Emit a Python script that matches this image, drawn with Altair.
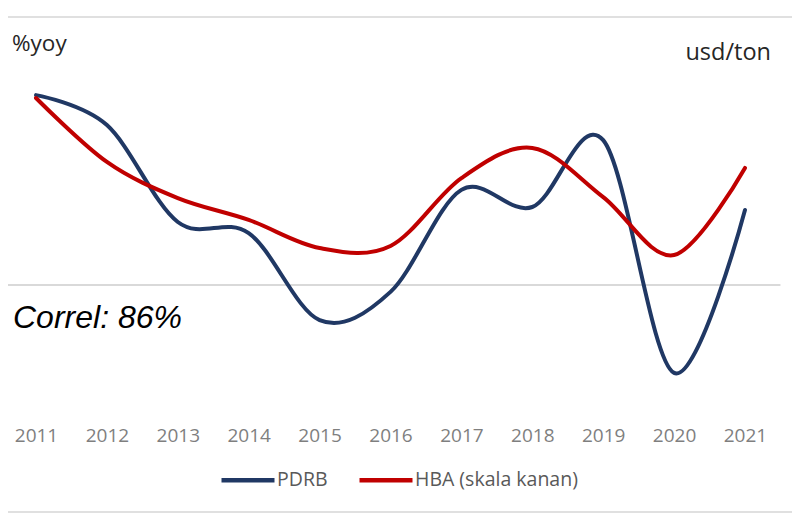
import altair as alt
import pandas as pd

years = [2011, 2012, 2013, 2014, 2015, 2016, 2017, 2018, 2019, 2020, 2021]
pdrb = [6.33, 5.33, 2.10, 1.73, -1.17, -0.23, 3.17, 2.60, 4.83, -2.93, 2.50]
hba = [118.0, 93.4, 79.5, 71.1, 60.3, 61.1, 87.2, 98.8, 79.9, 57.6, 91.1]
series_names = ["PDRB", "HBA (skala kanan)"]
series_colors = ["#203864", "#C00000"]

df = pd.DataFrame({"year": years, "pdrb": pdrb, "hba": hba})

W, H = 784, 506
xscale = alt.Scale(domain=[2010.605, 2021.663], nice=False, zero=False)
yleft = alt.Scale(domain=[-7.633, 9.233], nice=False, zero=False)
yright = alt.Scale(domain=[-42.0, 152.615], nice=False, zero=False)
color = alt.Color(
    "s:N",
    scale=alt.Scale(domain=series_names, range=series_colors),
    legend=alt.Legend(
        title=None, orient="none", direction="horizontal",
        legendX=211, legendY=443,
        symbolType="stroke", symbolSize=2809, symbolStrokeWidth=4.5,
        labelFont="Open Sans", labelFontSize=19.5, labelColor="#595959",
        labelOffset=0, columnPadding=22, labelLimit=400,
    ),
)

xaxis = alt.Axis(
    values=years, format="d", title=None, domain=False, ticks=False, grid=False,
    labelFont="Open Sans", labelFontSize=19, labelColor="#7f7f7f",
    offset=-91, labelPadding=12, labelBaseline="middle",
)

base = alt.Chart(df)

zero_rule = alt.Chart(pd.DataFrame({"a": [0]})).mark_rule(color="#d9d9d9", strokeWidth=2).encode(
    y=alt.Y("a:Q", scale=yleft, axis=None),
    x=alt.datum(2010.5, scale=xscale, axis=xaxis),
    x2=alt.datum(2021.5),
)

line_pdrb = base.transform_calculate(s="'PDRB'").mark_line(
    interpolate="cardinal", strokeWidth=4, strokeCap="round"
).encode(
    x=alt.X("year:Q", scale=xscale, axis=xaxis),
    y=alt.Y("pdrb:Q", scale=yleft, axis=None),
    color=color,
)

left = alt.layer(zero_rule, line_pdrb)

line_hba = base.transform_calculate(s="'HBA (skala kanan)'").mark_line(
    interpolate="cardinal", strokeWidth=4, strokeCap="round"
).encode(
    x=alt.X("year:Q", scale=xscale, axis=xaxis),
    y=alt.Y("hba:Q", scale=yright, axis=None),
    color=color,
)

border_top = alt.Chart(pd.DataFrame({"a": [0]})).mark_rule(color="#e0e0e0", strokeWidth=2).encode(
    x=alt.value(0), x2=alt.value(W), y=alt.value(9)
)
border_bot = alt.Chart(pd.DataFrame({"a": [0]})).mark_rule(color="#e0e0e0", strokeWidth=2).encode(
    x=alt.value(0), x2=alt.value(W), y=alt.value(504)
)

t_yoy = alt.Chart(pd.DataFrame({"t": ["%yoy"]})).mark_text(
    align="left", baseline="middle", font="Open Sans", fontSize=22.5, color="#262626"
).encode(text="t:N", x=alt.value(4), y=alt.value(36))
t_usd = alt.Chart(pd.DataFrame({"t": ["usd/ton"]})).mark_text(
    align="right", baseline="middle", font="Open Sans", fontSize=23.5, color="#262626"
).encode(text="t:N", x=alt.value(763), y=alt.value(45))
t_cor = alt.Chart(pd.DataFrame({"t": ["Correl: 86%"]})).mark_text(
    align="left", baseline="middle", font="Liberation Sans", fontSize=32,
    fontStyle="italic", color="#000000"
).encode(text="t:N", x=alt.value(5), y=alt.value(310))

chart = alt.layer(
    border_top, border_bot, left, line_hba, t_yoy, t_usd, t_cor
).resolve_scale(y="independent").properties(
    width=W, height=H, autosize=alt.AutoSizeParams(type="none"), padding=0,
    background="white",
).configure_view(stroke=None)

chart.save("out.html", embed_options={"renderer": "svg", "actions": False})
